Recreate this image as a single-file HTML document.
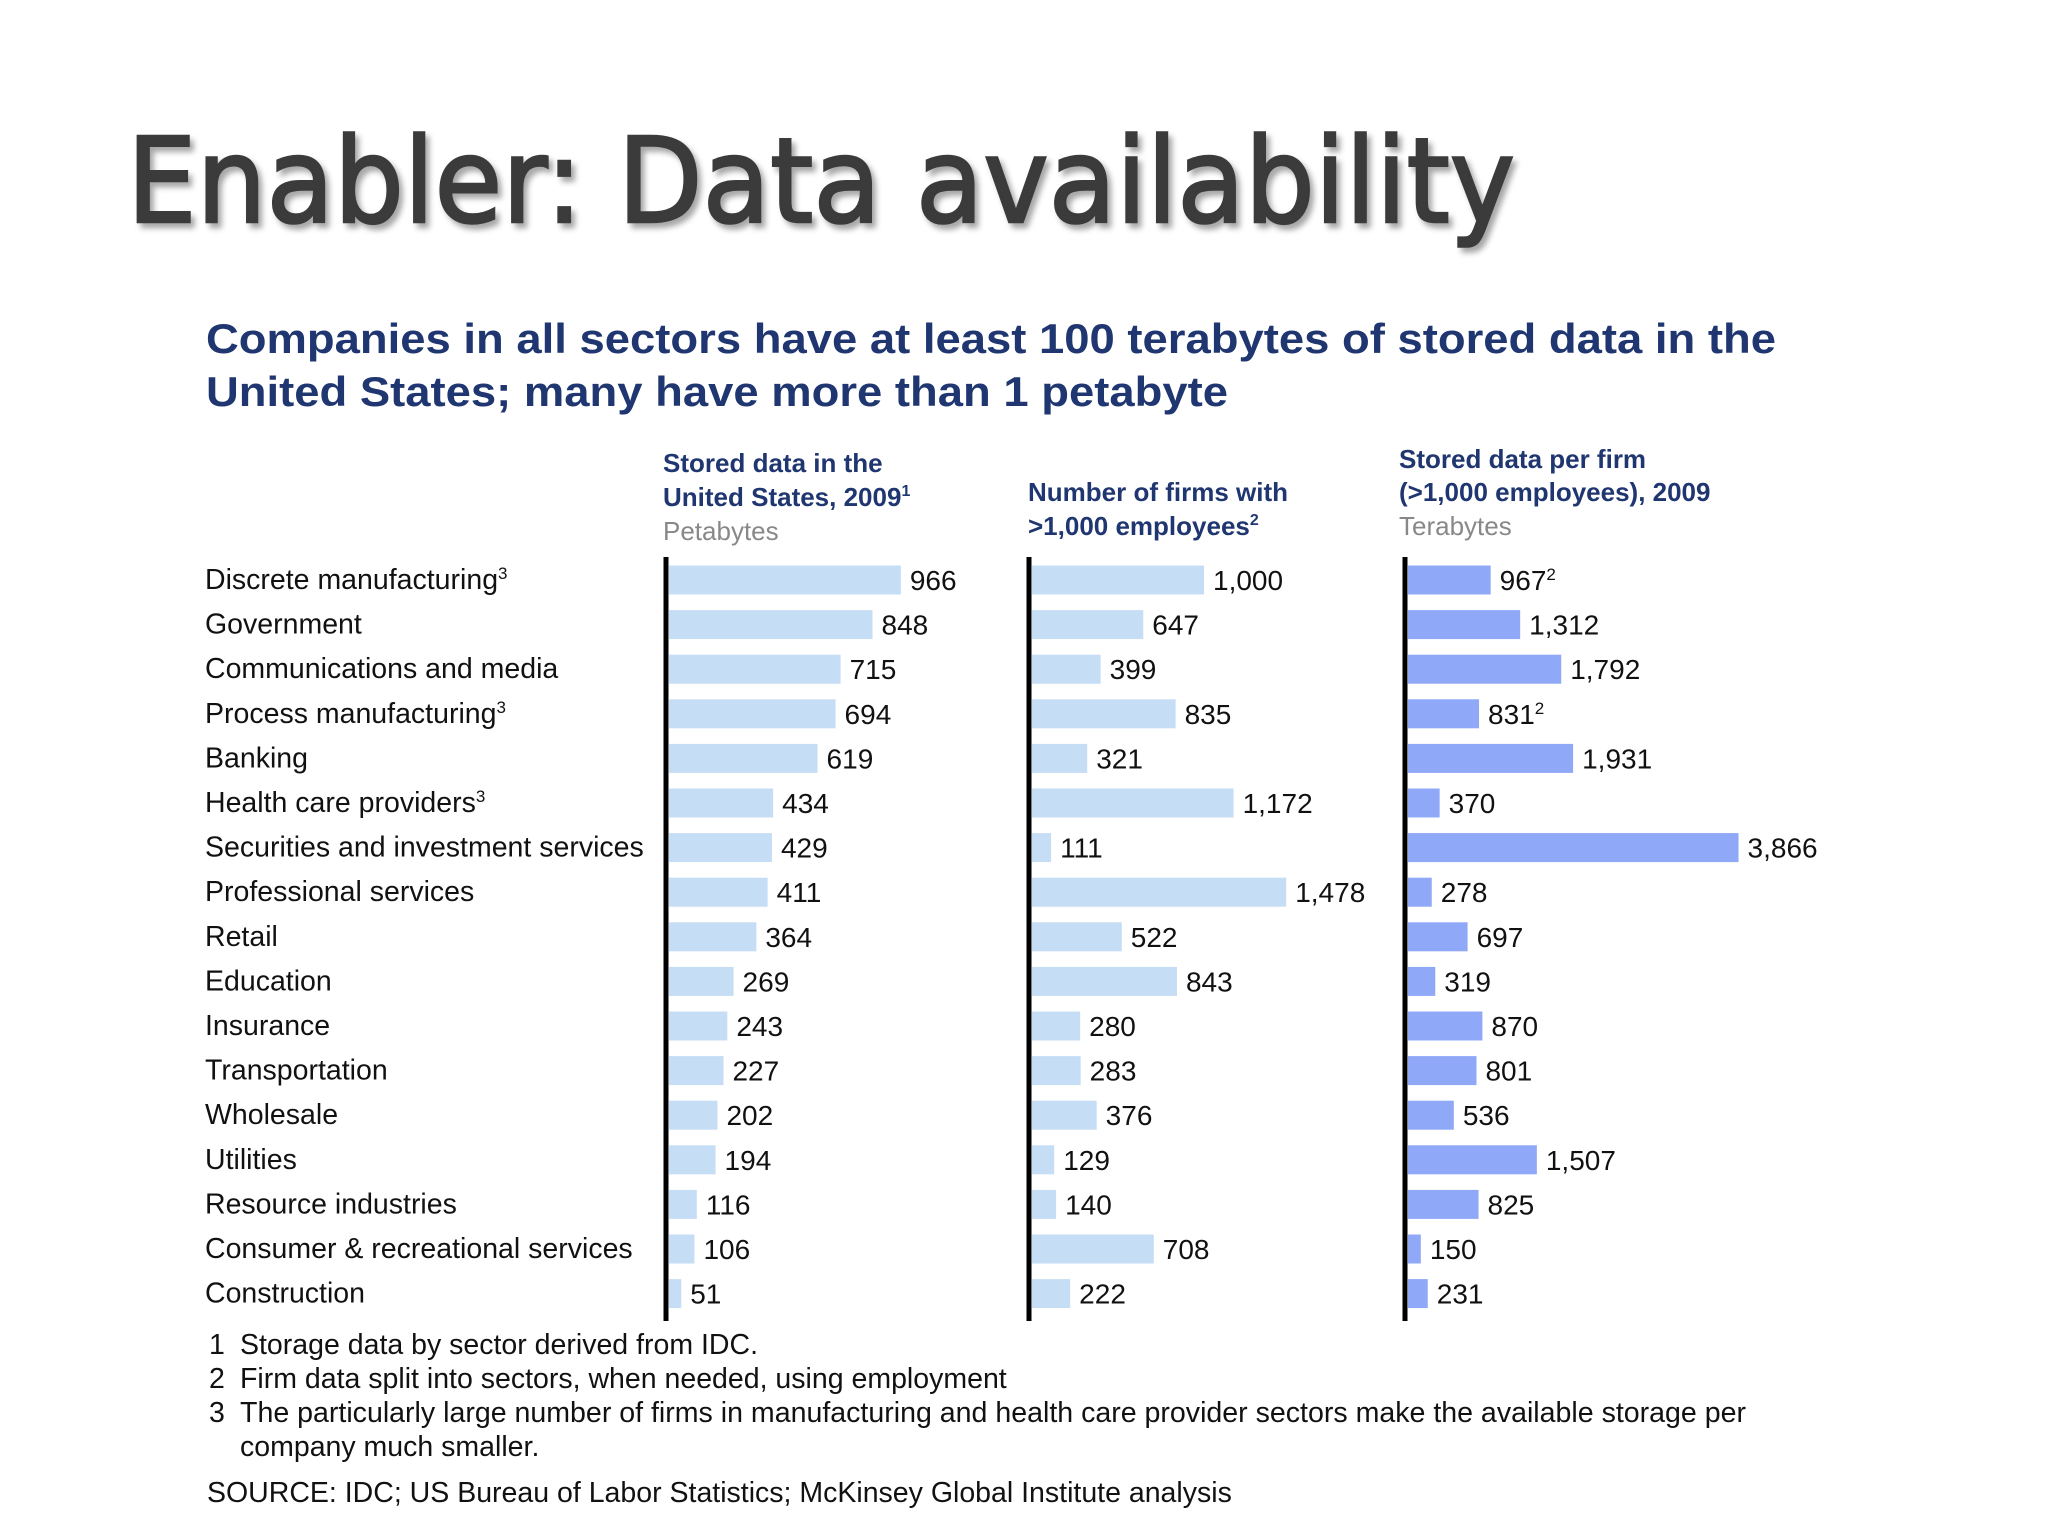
<!DOCTYPE html>
<html><head><meta charset="utf-8"><style>
html,body{margin:0;padding:0;background:#fff;}
svg{display:block;}
text{font-family:"Liberation Sans",sans-serif;}
</style></head><body>
<svg id="s" width="2048" height="1536" viewBox="0 0 2048 1536">
<defs><filter id="sh" x="-5%" y="-5%" width="110%" height="120%"><feDropShadow dx="4" dy="5" stdDeviation="3" flood-color="#000" flood-opacity="0.35"/></filter></defs>
<text x="127" y="222" font-size="118" fill="#3a3a3a" stroke="#3a3a3a" stroke-width="2.5" textLength="1388" lengthAdjust="spacingAndGlyphs" filter="url(#sh)" style="font-family:'DejaVu Sans',sans-serif">Enabler: Data availability</text>
<g fill="#1f3670" font-weight="bold" font-size="42">
<text x="206" y="353" textLength="1570" lengthAdjust="spacingAndGlyphs">Companies in all sectors have at least 100 terabytes of stored data in the</text>
<text x="206" y="406" textLength="1022" lengthAdjust="spacingAndGlyphs">United States; many have more than 1 petabyte</text>
</g>
<g font-size="26" font-weight="bold" fill="#1f3670">
<text x="663" y="472">Stored data in the</text>
<text x="663" y="506">United States, 2009<tspan font-size="16" dy="-10">1</tspan></text>
<text x="663" y="540" font-weight="normal" fill="#888">Petabytes</text>
<text x="1028" y="501">Number of firms with</text>
<text x="1028" y="535">&gt;1,000 employees<tspan font-size="16" dy="-10">2</tspan></text>
<text x="1399" y="468">Stored data per firm</text>
<text x="1399" y="501">(&gt;1,000 employees), 2009</text>
<text x="1399" y="535" font-weight="normal" fill="#888">Terabytes</text>
</g>
<g id="chart"></g>
<g font-size="28.5" fill="#111">
<text x="209" y="1354">1</text><text x="240" y="1354">Storage data by sector derived from IDC.</text>
<text x="209" y="1388">2</text><text x="240" y="1388">Firm data split into sectors, when needed, using employment</text>
<text x="209" y="1422">3</text><text x="240" y="1422" textLength="1506" lengthAdjust="spacingAndGlyphs">The particularly large number of firms in manufacturing and health care provider sectors make the available storage per</text>
<text x="240" y="1456">company much smaller.</text>
<text x="207" y="1502">SOURCE: IDC; US Bureau of Labor Statistics; McKinsey Global Institute analysis</text>
</g>
</svg>
<script>
const categories = ["Discrete manufacturing","Government","Communications and media","Process manufacturing","Banking","Health care providers","Securities and investment services","Professional services","Retail","Education","Insurance","Transportation","Wholesale","Utilities","Resource industries","Consumer & recreational services","Construction"];
const catSup = ["3","","","3","","3","","","","","","","","","","",""];
const storedPB = [966,848,715,694,619,434,429,411,364,269,243,227,202,194,116,106,51];
const firms = [1000,647,399,835,321,1172,111,1478,522,843,280,283,376,129,140,708,222];
const perFirmTB = [967,1312,1792,831,1931,370,3866,278,697,319,870,801,536,1507,825,150,231];
const perFirmSup = ["2","","","2","","","","","","","","","","","","",""];

const NS="http://www.w3.org/2000/svg";
const g=document.getElementById('chart');
function mk(t,a,parent){const e=document.createElementNS(NS,t);for(const k in a)e.setAttribute(k,a[k]);(parent||g).appendChild(e);return e;}
const rowY=i=>580+i*44.6;
const fmt=v=>v.toLocaleString('en-US');
const panels=[
 {vals:storedPB,axis:666,scale:0.24,color:"#c6ddf6",sup:null,name:"stored-data"},
 {vals:firms,axis:1029,scale:0.172,color:"#c6ddf6",sup:null,name:"firm-count"},
 {vals:perFirmTB,axis:1405,scale:0.0855,color:"#90a8f8",sup:perFirmSup,name:"data-per-firm"}
];
categories.forEach((c,i)=>{
  const t=mk('text',{x:205,y:rowY(i)+9,'font-size':28.5,fill:'#111'});
  
  
  t.textContent=c;
  if(catSup[i]){const s=mk('tspan',{'font-size':17,dy:-10},t);s.textContent=catSup[i];}
});
panels.forEach(p=>{
  const ax=mk('line',{x1:p.axis,x2:p.axis,y1:557,y2:1321,stroke:'#000','stroke-width':5});
  
  
  p.vals.forEach((v,i)=>{
    const w=v*p.scale;
    const r=mk('rect',{x:p.axis+3,y:rowY(i)-14.5,width:w,height:29,fill:p.color});
    
    
    const t=mk('text',{x:p.axis+3+w+9,y:rowY(i)+10,'font-size':28,fill:'#111'});
    
    
    t.textContent=fmt(v);
    if(p.sup&&p.sup[i]){const s=mk('tspan',{'font-size':17,dy:-10},t);s.textContent=p.sup[i];}
  });
});
</script>
</body></html>
